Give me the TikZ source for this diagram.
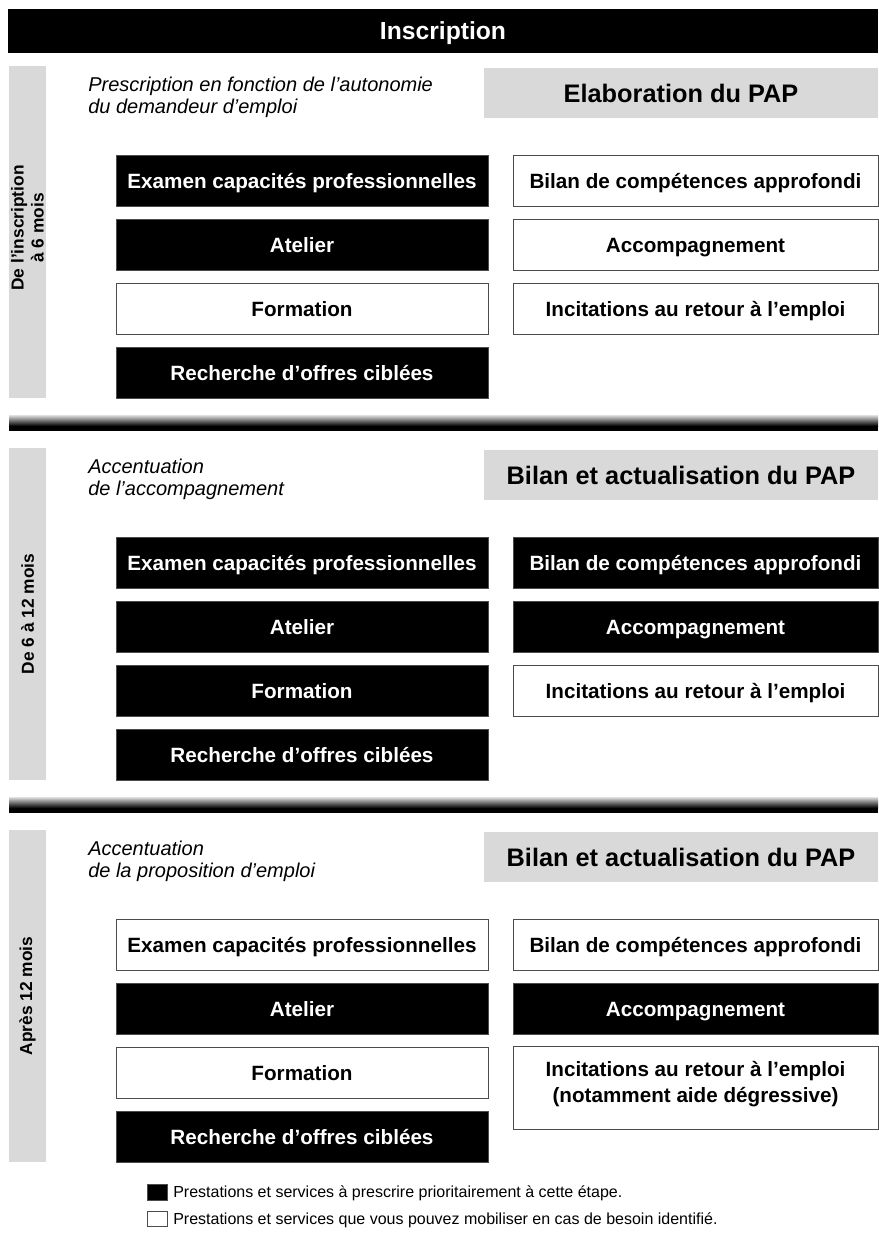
\documentclass[tikz,border=0pt]{standalone}
\usepackage{fontspec}
\setmainfont{Liberation Sans}
\begin{document}
\begin{tikzpicture}[x=0.75pt,y=-0.75pt,
  boxbase/.style={draw=black!70,line width=0.6pt,font=\bfseries\fontsize{15.5}{19}\selectfont,minimum height=38.25pt,inner sep=0pt,align=center},
  oneline/.style={text height=14pt,text depth=3pt},
  blk/.style={boxbase,oneline,fill=black,text=white},
  wht/.style={boxbase,oneline,fill=white,text=black},
  whttall/.style={boxbase,fill=white,text=black},
  lw/.style={minimum width=279pt},
  rw/.style={minimum width=273.75pt},
  strip/.style={fill=black!15,draw=none},
  titlebox/.style={fill=black!15,draw=none,font=\bfseries\fontsize{19}{22}\selectfont,minimum width=295.5pt,minimum height=37.5pt,inner sep=0pt,text height=17pt,text depth=3.4pt},
  itl/.style={font=\itshape\fontsize{15}{16.5}\selectfont,anchor=west,align=left,inner sep=0pt},
  vlab/.style={font=\bfseries\fontsize{13}{15}\selectfont,rotate=90,align=center,inner sep=0pt},
  legtxt/.style={font=\fontsize{12}{14}\selectfont,anchor=west,inner sep=0pt}
]
\useasboundingbox (0,0) rectangle (878,1241);
% header
\node[fill=black,text=white,font=\bfseries\fontsize{18.5}{22}\selectfont,minimum width=652.5pt,minimum height=33pt,inner sep=0pt,text height=16.5pt,text depth=3.3pt] (head) at (443,31) {Inscription};

% separators
\foreach \o/\n in {0/sepa,382/sepb}{
  \shade[top color=black!12,bottom color=black] (9,415+\o) rectangle (878,426+\o);
  \fill[black] (9,426+\o) rectangle (878,431+\o);
}

% ===== Section 1 =====
\fill[strip] (9,66) rectangle (46,398);
\node[vlab] (v1) at (27.5,228) {De l'inscription\\à 6 mois};
\node[itl] (i1) at (88,97) {Prescription en fonction de l'autonomie\\du demandeur d'emploi};
\node[titlebox] (t1) at (681,93) {Elaboration du PAP};
\node[blk,lw] (a1) at (302,181) {Examen capacités professionnelles};
\node[blk,lw] (a2) at (302,245) {Atelier};
\node[wht,lw] (a3) at (302,309) {Formation};
\node[blk,lw] (a4) at (302,373) {Recherche d'offres ciblées};
\node[wht,rw] (b1) at (695.5,181) {Bilan de compétences approfondi};
\node[wht,rw] (b2) at (695.5,245) {Accompagnement};
\node[wht,rw] (b3) at (695.5,309) {Incitations au retour à l'emploi};

% ===== Section 2 =====
\fill[strip] (9,448) rectangle (46,780);
\node[vlab] (v2) at (27.5,614) {De 6 à 12 mois};
\node[itl] (i2) at (88,479) {Accentuation\\de l'accompagnement};
\node[titlebox] (t2) at (681,475) {Bilan et actualisation du PAP};
\node[blk,lw] (c1) at (302,563) {Examen capacités professionnelles};
\node[blk,lw] (c2) at (302,627) {Atelier};
\node[blk,lw] (c3) at (302,691) {Formation};
\node[blk,lw] (c4) at (302,755) {Recherche d'offres ciblées};
\node[blk,rw] (d1) at (695.5,563) {Bilan de compétences approfondi};
\node[blk,rw] (d2) at (695.5,627) {Accompagnement};
\node[wht,rw] (d3) at (695.5,691) {Incitations au retour à l'emploi};

% ===== Section 3 =====
\fill[strip] (9,830) rectangle (46,1162);
\node[vlab] (v3) at (27.5,996) {Après 12 mois};
\node[itl] (i3) at (88,861) {Accentuation\\de la proposition d'emploi};
\node[titlebox] (t3) at (681,857) {Bilan et actualisation du PAP};
\node[wht,lw] (e1) at (302,945) {Examen capacités professionnelles};
\node[blk,lw] (e2) at (302,1009) {Atelier};
\node[wht,lw] (e3) at (302,1073) {Formation};
\node[blk,lw] (e4) at (302,1137) {Recherche d'offres ciblées};
\node[wht,rw] (f1) at (695.5,945) {Bilan de compétences approfondi};
\node[blk,rw] (f2) at (695.5,1009) {Accompagnement};
\node[whttall,rw,minimum height=62pt] (f3) at (695.5,1088) {};
\node[font=\bfseries\fontsize{15.5}{19}\selectfont,align=center,inner sep=0pt] (f3t) at (695.5,1084) {Incitations au retour à l'emploi\\(notamment aide dégressive)};

% legend
\node[fill=black,draw=black!70,minimum width=15pt,minimum height=12pt,inner sep=0pt] (lk1) at (157,1192) {};
\node[legtxt] (lt1) at (173,1193) {Prestations et services à prescrire prioritairement à cette étape.};
\node[fill=white,draw=black!70,line width=0.6pt,minimum width=15pt,minimum height=11pt,inner sep=0pt] (lk2) at (157,1219) {};
\node[legtxt] (lt2) at (173,1220) {Prestations et services que vous pouvez mobiliser en cas de besoin identifié.};
\end{tikzpicture}
\end{document}
